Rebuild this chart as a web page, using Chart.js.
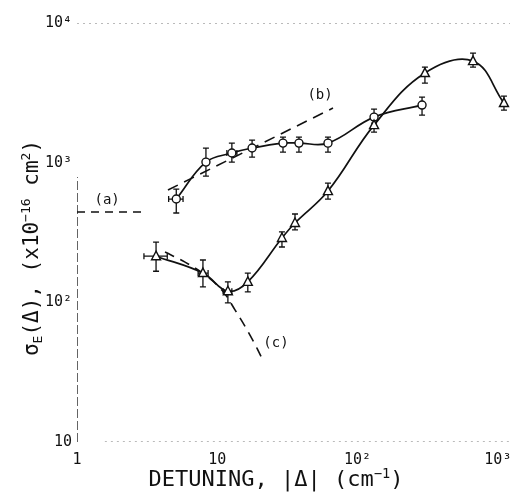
<!DOCTYPE html>
<html>
<head>
<meta charset="utf-8">
<script src="https://cdn.jsdelivr.net/npm/chart.js@4"></script>
<style>
  body { margin: 0; background: #fff; }
  #wrap { width: 510px; height: 496px; }
</style>
</head>
<body>
<div id="wrap"><canvas id="chart1" width="510" height="496"></canvas></div>
<script>
// upper series (open circles)
var circleX   = [5.1, 8.3, 12.7, 17.7, 29.4, 38.2, 61.5, 131, 288];
var circleY   = [549, 1009, 1172, 1273, 1381, 1381, 1380, 2120, 2585];
var circleYLo = [436, 802, 1009, 1097, 1191, 1191, 1191, 1920, 2190];
var circleYHi = [647, 1272, 1381, 1452, 1525, 1525, 1525, 2420, 2950];
var circleXLo = [4.5, null, 11.7, null, null, null, null, null, null];
var circleXHi = [5.7, null, 13.8, null, null, null, null, null, null];

// lower series (open triangles)
var triX   = [3.66, 7.9, 11.9, 16.5, 28.9, 35.8, 61.5, 131, 302, 665, 1105];
var triY   = [214, 162, 120, 140, 289, 370, 626, 1858, 4380, 5336, 2672];
var triYLo = [167, 129, 99, 119, 249, 330, 549, 1656, 3715, 4835, 2380];
var triYHi = [270, 201, 140, 162, 319, 429, 714, 2018, 4835, 6090, 3000];
var triXLo = [3.0, 7.3, 11.0, null, null, null, null, null, null, null, null];
var triXHi = [4.4, 8.6, 12.7, null, null, null, null, null, null, null, null];

// dashed theory curves
var lineAX = [1, 2.95];
var lineAY = [443, 443];
var lineBX = [4.45, 66.8];
var lineBY = [637, 2460];
var lineCX = [4.24, 5.89, 8.17, 10.8, 13.4, 17.1, 21.5];
var lineCY = [229, 194, 157, 122, 88, 58.3, 37.4];

// annotation labels
var noteText = ['(a)', '(b)', '(c)'];
var noteX = [1.64, 54, 26.2];
var noteY = [540, 3050, 51.2];

// frame remnants of the scan
var frameTopX = [1, 1220];
var frameTopY = [10000, 10000];
var frameBotX = [1.58, 1220];
var frameBotY = [10, 10];
var frameLeftX = [1, 1];
var frameLeftY = [10, 789];

var xTicks = [1, 10, 100, 1000];
var xTickLabels = ['1', '10', '10\u00b2', '10\u00b3'];
var yTicks = [10, 100, 1000, 10000];
var yTickLabels = ['10', '10\u00b2', '10\u00b3', '10\u2074'];

var INK = '#111';
var MONO = '"DejaVu Sans Mono", monospace';

function pts(xs, ys) {
  return xs.map(function (x, i) { return {x: x, y: ys[i]}; });
}

function lineSet(xs, ys, dash, color, width) {
  return {
    type: 'line', data: pts(xs, ys), borderColor: color || INK,
    borderWidth: width || 1.6, borderDash: dash || [], pointRadius: 0,
    fill: false, tension: 0
  };
}

var errorBars = {
  id: 'errorBars',
  afterDatasetsDraw: function (chart) {
    var ctx = chart.ctx, xs = chart.scales.x, ys = chart.scales.y;
    var groups = [
      [circleX, circleY, circleYLo, circleYHi, circleXLo, circleXHi],
      [triX, triY, triYLo, triYHi, triXLo, triXHi]
    ];
    ctx.save();
    ctx.strokeStyle = INK;
    ctx.lineWidth = 1.3;
    groups.forEach(function (g) {
      g[0].forEach(function (xv, i) {
        var px = xs.getPixelForValue(xv), py = ys.getPixelForValue(g[1][i]);
        var lo = ys.getPixelForValue(g[2][i]), hi = ys.getPixelForValue(g[3][i]);
        ctx.beginPath();
        ctx.moveTo(px, lo); ctx.lineTo(px, hi);
        ctx.moveTo(px - 3, lo); ctx.lineTo(px + 3, lo);
        ctx.moveTo(px - 3, hi); ctx.lineTo(px + 3, hi);
        if (g[4][i] != null) {
          var l = xs.getPixelForValue(g[4][i]), r = xs.getPixelForValue(g[5][i]);
          ctx.moveTo(l, py); ctx.lineTo(r, py);
          ctx.moveTo(l, py - 3); ctx.lineTo(l, py + 3);
          ctx.moveTo(r, py - 3); ctx.lineTo(r, py + 3);
        }
        ctx.stroke();
      });
    });
    // redraw markers on top of bars
    ctx.fillStyle = '#fff';
    ctx.lineWidth = 1.4;
    circleX.forEach(function (xv, i) {
      var px = xs.getPixelForValue(xv), py = ys.getPixelForValue(circleY[i]);
      ctx.beginPath(); ctx.arc(px, py, 4, 0, Math.PI * 2); ctx.fill(); ctx.stroke();
    });
    triX.forEach(function (xv, i) {
      var px = xs.getPixelForValue(xv), py = ys.getPixelForValue(triY[i]);
      ctx.beginPath();
      ctx.moveTo(px, py - 5); ctx.lineTo(px + 4.5, py + 3.5); ctx.lineTo(px - 4.5, py + 3.5);
      ctx.closePath(); ctx.fill(); ctx.stroke();
    });
    // annotations
    ctx.fillStyle = INK;
    ctx.font = '14px ' + MONO;
    ctx.textAlign = 'center';
    ctx.textBaseline = 'middle';
    noteText.forEach(function (t, i) {
      ctx.fillText(t, xs.getPixelForValue(noteX[i]), ys.getPixelForValue(noteY[i]));
    });
    ctx.restore();
  }
};

function drawPieces(ctx, pieces, size) {
  pieces.forEach(function (p) {
    var s = p.small ? size * 0.62 : size;
    ctx.font = s + 'px ' + MONO;
    ctx.fillText(p.t, 0, p.dy || 0);
    ctx.translate(ctx.measureText(p.t).width, 0);
  });
}

function piecesWidth(ctx, pieces, size) {
  var w = 0;
  pieces.forEach(function (p) {
    ctx.font = (p.small ? size * 0.62 : size) + 'px ' + MONO;
    w += ctx.measureText(p.t).width;
  });
  return w;
}

var axisTitles = {
  id: 'axisTitles',
  afterDraw: function (chart) {
    var ctx = chart.ctx;
    ctx.save();
    ctx.fillStyle = INK;
    ctx.textBaseline = 'alphabetic';
    ctx.textAlign = 'left';

    var xt = [{t: 'DETUNING, |\u0394| (cm'}, {t: '\u22121', small: true, dy: -8}, {t: ')'}];
    var size = 22;
    var w = piecesWidth(ctx, xt, size);
    ctx.save();
    ctx.translate(276 - w / 2, 486);
    drawPieces(ctx, xt, size);
    ctx.restore();

    var yt = [{t: '\u03c3'}, {t: 'E', small: true, dy: 4}, {t: '(\u0394), (x10'},
              {t: '\u221216', small: true, dy: -8}, {t: ' cm'}, {t: '2', small: true, dy: -8}, {t: ')'}];
    size = 21;
    w = piecesWidth(ctx, yt, size);
    ctx.save();
    ctx.translate(38, 248 + w / 2);
    ctx.rotate(-Math.PI / 2);
    drawPieces(ctx, yt, size);
    ctx.restore();
    ctx.restore();
  }
};

new Chart(document.getElementById('chart1'), {
  type: 'scatter',
  data: {
    datasets: [
      lineSet(frameTopX, frameTopY, [2, 4], '#777', 1.2),
      lineSet(frameBotX, frameBotY, [2, 4], '#777', 1.2),
      lineSet(frameLeftX, frameLeftY, [9, 3], INK, 1.3),
      lineSet(lineAX, lineAY, [8, 6]),
      lineSet(lineBX, lineBY, [11, 7]),
      Object.assign(lineSet(lineCX, lineCY, [10, 7]), {tension: 0.4}),
      {
        type: 'line', data: pts(circleX, circleY), borderColor: INK, borderWidth: 1.7,
        pointRadius: 0, tension: 0.4, fill: false
      },
      {
        type: 'line', data: pts(triX, triY), borderColor: INK, borderWidth: 1.7,
        pointRadius: 0, tension: 0.4, fill: false
      }
    ]
  },
  options: {
    responsive: false,
    animation: false,
    layout: {padding: {top: 23, right: 0, bottom: 0, left: 0}},
    plugins: {legend: {display: false}, tooltip: {enabled: false}},
    scales: {
      x: {
        type: 'logarithmic', min: 1, max: 1220,
        grid: {display: false, drawTicks: false},
        border: {display: false},
        afterBuildTicks: function (s) { s.ticks = xTicks.map(function (v) { return {value: v}; }); },
        afterFit: function (s) { s.height = 54; s.paddingRight = 0; s.paddingLeft = 0; },
        ticks: {
          autoSkip: false, maxRotation: 0, padding: 9, color: INK,
          font: {family: MONO, size: 15},
          callback: function (v, i) { return xTickLabels[i]; }
        }
      },
      y: {
        type: 'logarithmic', min: 10, max: 10000,
        grid: {display: false, drawTicks: false},
        border: {display: false},
        afterBuildTicks: function (s) { s.ticks = yTicks.map(function (v) { return {value: v}; }); },
        afterFit: function (s) { s.width = 77; s.paddingTop = 0; s.paddingBottom = 0; },
        ticks: {
          autoSkip: false, padding: 5, color: INK,
          font: {family: MONO, size: 15},
          callback: function (v, i) { return yTickLabels[i]; }
        }
      }
    }
  },
  plugins: [errorBars, axisTitles]
});
</script>
</body>
</html>
